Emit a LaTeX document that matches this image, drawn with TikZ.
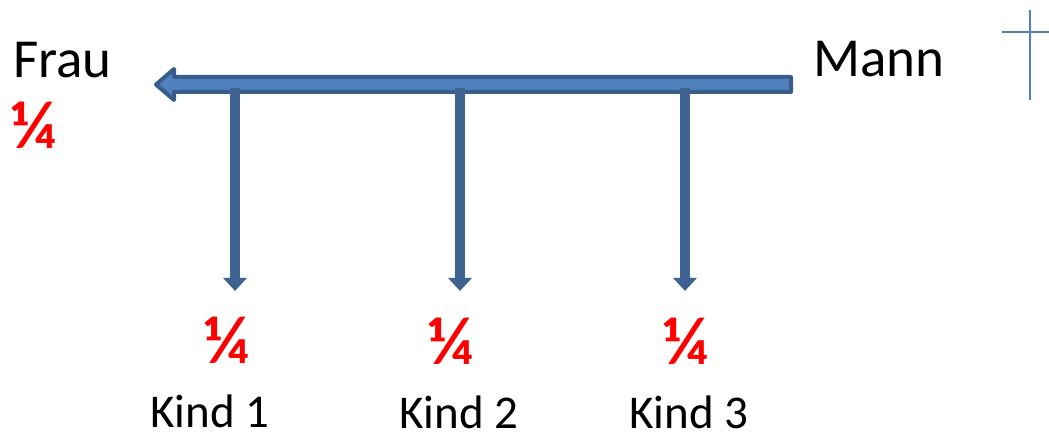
\documentclass[tikz,border=0pt]{standalone}
\usepackage{fontspec}
\setmainfont{Carlito}
\usetikzlibrary{arrows.meta,calc}
\definecolor{barfill}{HTML}{4F81BD}
\definecolor{bardraw}{HTML}{385D8A}
\definecolor{downblue}{HTML}{3E6393}
\definecolor{fracred}{HTML}{FF0000}
\begin{document}
\begin{tikzpicture}[x=1pt,y=-1pt,
  person/.style={inner sep=0pt,font=\fontsize{55}{60}\selectfont,anchor=base west},
  child/.style={inner sep=0pt,font=\fontsize{47}{52}\selectfont,anchor=base west},
  share/.style={inner sep=0pt,text=fracred,font=\fontsize{68}{72}\selectfont\bfseries,anchor=base},
  bigarrow/.style={fill=barfill,draw=bardraw,line width=4pt,line join=round},
  downarrow/.style={draw=downblue,line width=10pt,-{Triangle[width=23pt,length=13pt]}},
  cross/.style={draw=barfill,line width=2pt}]
\useasboundingbox (0,0) rectangle (1049,435);

% names
\node[person] (frau) at (13,78) {Frau};
\node[person] (mann) at (813,77) {Mann};
\node[share,anchor=base west] (sfrau) at (11,149) {¼};

% shares and children
\node[share] (s1) at (227,363) {¼};
\node[share] (s2) at (451,364) {¼};
\node[share] (s3) at (686,364) {¼};
\node[child] (k1) at (150,427) {Kind 1};
\node[child] (k2) at (399,428) {Kind 2};
\node[child] (k3) at (629,428) {Kind 3};

% ends of the inheritance arrow
\coordinate (bstart) at (791,84.5);
\coordinate (btip) at (156,84.5);

% branch points and arrow ends
\coordinate (b1) at (235,88);
\coordinate (b2) at (460,88);
\coordinate (b3) at (685,88);
\coordinate (e1) at (235,291);
\coordinate (e2) at (460,291);
\coordinate (e3) at (685,291);

% the broad arrow from Mann to Frau
\draw[bigarrow] (bstart) -- ++(0,-7.5) -- ($(btip)+(18,-7.5)$) -- ($(btip)+(18,-15.5)$)
  -- (btip) -- ($(btip)+(18,15.5)$) -- ($(btip)+(18,7.5)$) -- ($(bstart)+(0,7.5)$) -- cycle;

% arrows down to the children
\draw[downarrow] (b1) -- (e1);
\draw[downarrow] (b2) -- (e2);
\draw[downarrow] (b3) -- (e3);

% cross
\coordinate (ctop) at (1030,10);
\coordinate (cbot) at (1030,100);
\coordinate (cl) at (1002,32);
\coordinate (cr) at (1049,32);
\draw[cross] (ctop) -- (cbot);
\draw[cross] (cl) -- (cr);
\end{tikzpicture}
\end{document}
